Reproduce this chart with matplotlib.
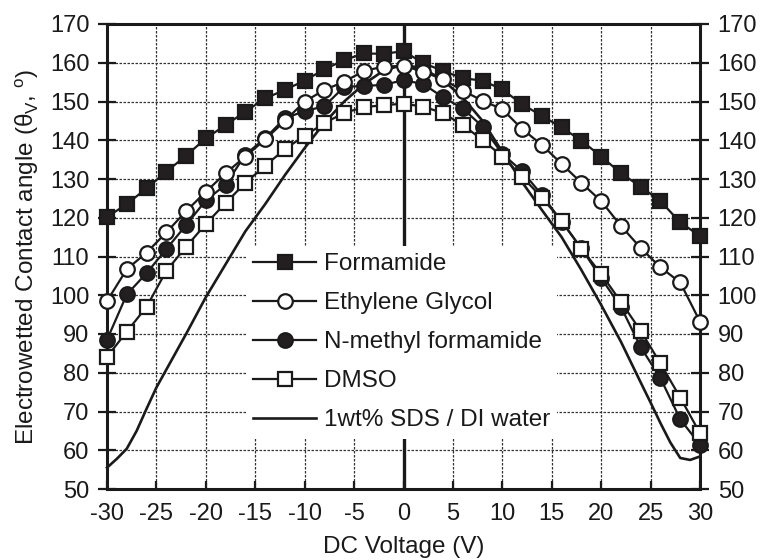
import matplotlib
matplotlib.use("Agg")
import matplotlib.pyplot as plt

plt.rcParams['font.family'] = ['Liberation Sans', 'DejaVu Sans']
plt.rcParams['mathtext.fontset'] = 'custom'
plt.rcParams['mathtext.rm'] = 'Liberation Sans'

voltage = [-30, -28, -26, -24, -22, -20, -18, -16, -14, -12, -10, -8, -6, -4, -2, 0,
           2, 4, 6, 8, 10, 12, 14, 16, 18, 20, 22, 24, 26, 28, 30]

formamide = [120.2, 123.5, 127.6, 131.9, 136.0, 140.5, 143.9, 147.4, 150.8, 153.0, 155.4,
             158.3, 160.7, 162.4, 162.3, 163.0,
             159.9, 157.9, 156.0, 155.4, 153.1, 149.3, 146.3, 143.3, 139.9, 135.8, 131.5,
             128.0, 124.3, 118.8, 115.3]
ethylene_glycol = [98.5, 106.7, 111.0, 116.2, 121.7, 126.7, 131.5, 135.8, 140.2, 145.0, 150.0,
                   153.0, 155.1, 157.9, 159.0, 159.2,
                   157.7, 155.7, 152.8, 150.2, 148.0, 142.9, 138.8, 133.9, 129.0, 124.3, 117.9,
                   112.2, 107.2, 103.3, 93.2]
n_methyl_formamide = [88.5, 100.2, 105.7, 111.9, 118.1, 124.5, 128.5, 136.3, 140.5, 145.7, 147.5,
                      148.8, 153.8, 154.0, 154.3, 155.5,
                      154.5, 151.1, 148.2, 143.5, 136.5, 132.0, 125.9, 119.0, 112.1, 104.4, 97.0,
                      86.6, 78.6, 68.0, 61.4]
dmso = [84.1, 90.6, 97.0, 106.3, 112.5, 118.4, 123.8, 129.0, 133.4, 137.7, 141.2,
        144.4, 147.1, 148.5, 149.1, 149.4,
        148.7, 147.0, 143.9, 140.1, 135.8, 130.6, 125.2, 119.2, 112.0, 105.5, 98.3,
        90.8, 82.4, 73.6, 64.4]

sds_voltage = [-30, -29, -28, -27, -26, -25, -24, -22, -20, -18, -16, -14, -12, -10, -8, -6, -4,
               -2, 0, 2, 4, 6, 8, 10, 12, 14, 16, 18, 20, 22, 24, 25, 26, 27, 28, 29, 30]
sds_water = [55.5, 57.8, 60.4, 65.0, 70.7, 76.2, 80.8, 90.0, 99.5, 108.0, 116.5, 123.5, 131.0,
             138.0, 144.5, 150.0, 154.5, 158.0, 159.5, 158.5, 155.5, 151.0, 145.0, 137.0, 129.2,
             122.0, 115.0, 106.5, 97.5, 88.0, 77.5, 72.3, 67.0, 62.0, 58.0, 57.5, 58.4]

x_ticks = [-30, -25, -20, -15, -10, -5, 0, 5, 10, 15, 20, 25, 30]
y_ticks = [50, 60, 70, 80, 90, 100, 110, 120, 130, 140, 150, 160, 170]

fig = plt.figure(figsize=(7.61, 5.6), dpi=100)
ax = fig.add_axes([107 / 761, 1 - 489 / 560, 593 / 761, 465 / 560])

FS_TICK = 17
FS = 17.5
ms = 10.5
mew = 1.6
lw = 1.6
ink = '#1a1a1a'

ax.plot(sds_voltage, sds_water, color=ink, lw=1.9, label='1wt% SDS / DI water', zorder=3,
        clip_on=False)
ax.plot(voltage, formamide, color=ink, lw=lw, marker='s', ms=ms, mfc='#231f20',
        mec=ink, mew=mew, label='Formamide', zorder=4, clip_on=False)
ax.plot(voltage, n_methyl_formamide, color=ink, lw=lw, marker='o', ms=ms, mfc='#231f20',
        mec=ink, mew=mew, label='N-methyl formamide', zorder=4, clip_on=False)
ax.plot(voltage, ethylene_glycol, color=ink, lw=lw, marker='o', ms=ms, mfc='white',
        mec=ink, mew=mew, label='Ethylene Glycol', zorder=5, clip_on=False)
ax.plot(voltage, dmso, color=ink, lw=lw, marker='s', ms=ms, mfc='white',
        mec=ink, mew=mew, label='DMSO', zorder=5, clip_on=False)

ax.axvline(0, color=ink, lw=2.4, zorder=2)

ax.set_xlim(-30, 30)
ax.set_ylim(50, 170)
ax.set_xticks(x_ticks)
ax.set_yticks(y_ticks)
ax.set_xticklabels([str(v) for v in x_ticks])
ax.grid(True, color='#333333', lw=0.9, linestyle=(0, (2, 1.2)), zorder=1)
ax.set_axisbelow(True)

for s in ax.spines.values():
    s.set_linewidth(2.2)
    s.set_color(ink)

ax.tick_params(axis='x', direction='in', length=6, width=1.6, top=False, bottom=True,
               labelsize=FS_TICK, pad=10, colors=ink)
ax.tick_params(axis='y', direction='inout', length=13.5, width=1.6, left=True, right=True,
               labelleft=True, labelright=True, labelsize=FS_TICK, pad=6, colors=ink)

ax.set_xlabel('DC Voltage (V)', fontsize=FS, labelpad=8, color=ink)
ax.set_ylabel('Electrowetted Contact angle (θ$_\\mathregular{V}$, $^\\mathregular{o}$)',
              fontsize=FS, labelpad=6, color=ink)

handles, labels = ax.get_legend_handles_labels()
order = ['Formamide', 'Ethylene Glycol', 'N-methyl formamide', 'DMSO', '1wt% SDS / DI water']
hmap = dict(zip(labels, handles))
leg = ax.legend([hmap[k] for k in order], order, loc='upper left',
                bbox_to_anchor=((246 - 107) / 593, (489 - 246) / 465),
                fontsize=FS, frameon=True, fancybox=False, framealpha=1,
                facecolor='white', edgecolor='none', handlelength=2.6,
                handletextpad=0.3, labelspacing=0.7, borderpad=0.3, borderaxespad=0)
leg.set_zorder(6)
for t in leg.get_texts():
    t.set_color(ink)

fig.savefig('out.png', dpi=100)
